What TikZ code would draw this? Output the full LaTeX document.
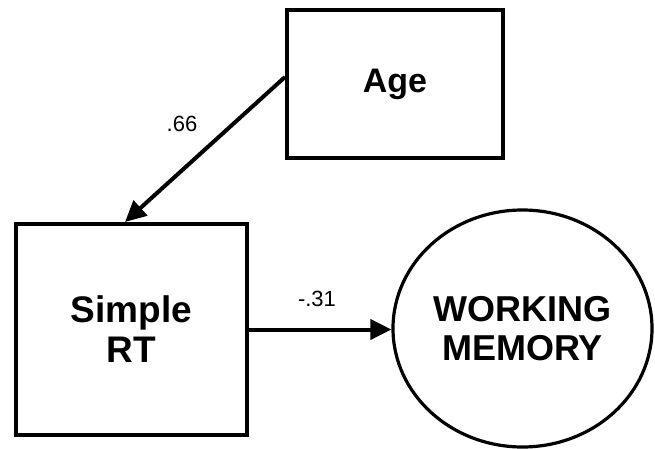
\documentclass[tikz,border=0pt]{standalone}
\usepackage{fontspec}
\setmainfont{Liberation Sans}
\usepackage{tikz}
\usetikzlibrary{shapes.geometric, arrows.meta, positioning}
\tikzset{
	varbox/.style={draw=black, line width=4pt, rectangle, inner sep=0pt, align=center,
			font=\fontsize{37}{40}\selectfont\bfseries}
}
\tikzset{
	latentnode/.style={draw=black, line width=3.2pt, ellipse, inner sep=0pt, align=center,
			font=\fontsize{36}{39}\selectfont\bfseries}
}
\tikzset{
	pathlabel/.style={font=\fontsize{22}{26}\selectfont}
}
\tikzset{
	patharrow/.style={line width=4pt, -{Triangle[length=21pt, width=20pt]}}
}
\begin{document}
\begin{tikzpicture}[x=1pt, y=1pt]

			\useasboundingbox (0,0) rectangle (655,448);

			\begin{scope}
				\node[varbox, minimum width=216pt, minimum height=148pt,
					font=\fontsize{34}{40}\selectfont\bfseries] (age) at (395,364) {Age};
				\node[varbox, minimum width=231pt, minimum height=211pt] (srt) at (131.5,118.5) {Simple\\RT};
				\node[latentnode, minimum width=259pt, minimum height=237pt] (wm) at (522.5,119.5) {WORKING\\MEMORY};
			\end{scope}

			\begin{scope}
				\draw[patharrow] ([yshift=7pt]age.west) -- ([xshift=-6.5pt]srt.north);
				\draw[patharrow] (srt.east) -- (srt.east -| wm.west);

				\node[pathlabel] (l66) at (182,324) {.66};
				\node[pathlabel] (l31) at (317,149.5) {-.31};
			\end{scope}

		\end{tikzpicture}
\end{document}
